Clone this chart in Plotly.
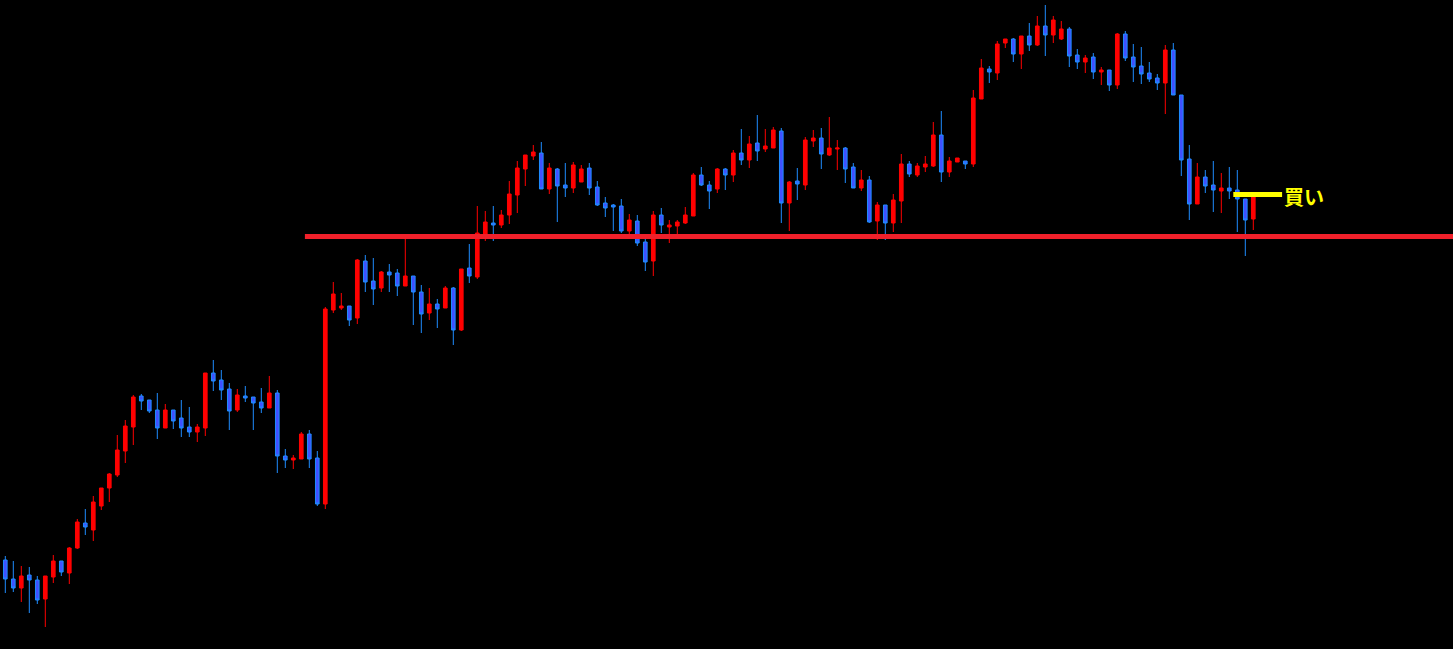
import plotly.graph_objects as go

# OHLC values (chart price units), one entry per candle, left to right
open_ = [440,421,412,425,420,401,423,439,427,452,477,470,494,512,525,549,573,604,600,590,
         572,590,582,573,568,572,627,620,611,590,604,603,598,592,607,544,540,541,566,542,
         496,690,692,694,682,739,719,712,728,727,714,724,708,687,696,692,712,670,732,723,
         766,777,775,785,805,831,844,847,811,831,815,812,818,832,813,797,795,794,769,779,
         758,739,785,773,774,777,784,825,815,811,831,825,847,840,857,851,852,869,797,819,
         815,859,862,845,851,852,833,812,820,779,795,777,799,836,825,833,834,865,828,838,
         839,836,901,931,927,957,961,946,964,955,974,965,961,971,945,938,943,928,930,915,
         966,943,934,927,922,917,950,905,841,796,823,815,809,812,810,801,781]
high = [444,439,434,433,424,424,445,439,453,481,491,504,512,527,565,580,605,606,600,607,
        596,590,600,593,576,627,640,630,617,611,614,603,612,624,610,551,545,568,570,549,
        693,718,707,694,741,745,742,729,736,731,761,724,715,712,701,714,713,731,756,794,
        789,794,790,819,839,845,855,858,837,832,837,838,835,837,819,803,796,801,786,785,
        761,789,792,780,780,793,827,833,819,832,832,850,871,864,885,871,873,872,819,832,
        863,870,872,883,860,853,837,830,824,798,795,806,846,839,837,844,878,889,843,842,
        839,910,941,934,959,961,962,964,977,984,995,984,979,973,951,945,947,933,930,967,
        969,956,953,938,926,955,957,905,855,837,830,839,827,833,830,801,806]
low = [407,408,398,387,396,373,417,424,416,451,465,459,490,498,523,537,555,590,587,561,
       572,571,563,563,558,564,609,600,570,588,598,570,587,592,527,532,531,541,532,494,
       491,687,690,674,676,708,695,708,708,704,714,675,667,680,672,692,655,669,717,721,
       759,759,772,776,787,814,840,811,806,778,803,807,818,805,794,783,769,767,765,754,
       729,724,767,757,766,776,784,814,791,807,810,818,835,832,839,848,852,777,769,800,
       810,853,831,844,830,817,812,809,777,760,760,768,777,823,823,828,833,818,823,838,
       831,833,901,917,920,952,938,931,949,954,944,957,960,933,931,927,921,915,909,911,
       939,918,916,918,910,886,905,824,780,796,807,788,787,801,768,744,770]
close = [421,412,424,420,400,424,439,428,452,478,473,498,512,526,550,574,603,599,589,572,
         590,579,572,568,573,627,619,610,589,605,602,597,592,607,544,540,542,566,541,496,
         691,706,694,680,740,718,711,728,725,714,724,708,686,696,691,712,670,731,724,767,
         778,775,785,806,832,845,848,811,832,814,812,835,831,812,795,792,793,769,780,757,
         738,785,775,775,778,785,825,815,809,831,825,847,840,856,849,854,870,797,818,816,
         860,862,846,852,852,831,812,820,778,795,777,800,836,826,834,836,865,828,839,842,
         836,902,932,928,956,961,946,964,955,974,965,980,971,944,938,942,928,930,915,966,
         942,933,926,921,917,950,905,840,796,823,814,810,812,809,801,780,803]
candle_index = list(range(len(open_)))

support_level = 763.5      # red horizontal line
support_start = 37.45      # candle index where the line begins
entry_level = 805.5        # yellow "buy" marker level
entry_start, entry_end = 153.5, 159.6
label_text = "買い"

fig = go.Figure()
fig.add_trace(go.Candlestick(
    x=candle_index, open=open_, high=high, low=low, close=close,
    increasing=dict(line=dict(color="#FF0000", width=1), fillcolor="#FF0000"),
    decreasing=dict(line=dict(color="#1E8CFF", width=1), fillcolor="#4050FF"),
    whiskerwidth=0,
    hoverinfo="x+y",
))

fig.add_shape(type="line", x0=support_start, x1=185, y0=support_level, y1=support_level,
              line=dict(color="#F0202A", width=5), layer="above")
fig.add_shape(type="line", x0=entry_start, x1=entry_end, y0=entry_level, y1=entry_level,
              line=dict(color="#FFFF00", width=5), layer="above")
fig.add_annotation(x=entry_end - 0.05, y=entry_level - 1.5, text="<b>" + label_text + "</b>",
                   showarrow=False, xanchor="left", yanchor="middle",
                   font=dict(family="Noto Sans CJK JP", size=20, color="#FFFF00"))

fig.update_layout(
    width=1453, height=649,
    margin=dict(l=0, r=0, t=0, b=0),
    paper_bgcolor="#000000", plot_bgcolor="#000000",
    showlegend=False,
    boxgap=0.35,
    xaxis=dict(range=[-0.6625, 180.9625], visible=False, showgrid=False,
               rangeslider=dict(visible=False), fixedrange=True),
    yaxis=dict(range=[351, 1000], visible=False, showgrid=False, fixedrange=True),
)

fig.write_html(
    "out.html",
    config={"displayModeBar": False},
    post_script="document.body.style.margin='0';document.body.style.background='#000';"
                "document.body.style.overflow='hidden';",
)
